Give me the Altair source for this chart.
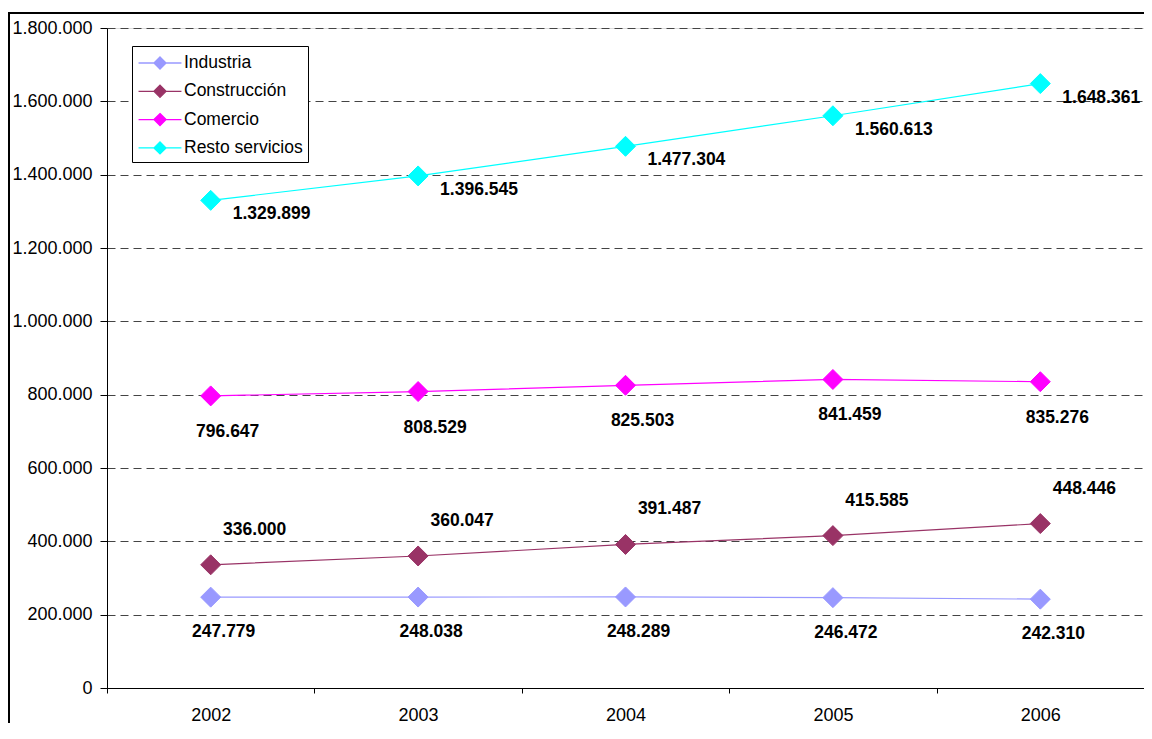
import altair as alt
import pandas as pd

years = ["2002", "2003", "2004", "2005", "2006"]
series = ["Industria", "Construcción", "Comercio", "Resto servicios"]
industria = [247779, 248038, 248289, 246472, 242310]
construccion = [336000, 360047, 391487, 415585, 448446]
comercio = [796647, 808529, 825503, 841459, 835276]
resto = [1329899, 1396545, 1477304, 1560613, 1648361]
colors = ["#9999FF", "#993366", "#FF00FF", "#00FFFF"]
y_ticks = [0, 200000, 400000, 600000, 800000, 1000000, 1200000, 1400000, 1600000, 1800000]

rows = []
for name, vals in zip(series, [industria, construccion, comercio, resto]):
    for yr, v in zip(years, vals):
        rows.append({"Año": yr, "Serie": name, "Valor": v})
df = pd.DataFrame(rows)

FONT = "Liberation Sans"
dot_fmt = "replace(replace(format({v}, ','), ',', '.'), ',', '.')"

x_enc = alt.X(
    "Año:N", sort=years,
    scale=alt.Scale(type="band", paddingInner=0, paddingOuter=0),
    axis=alt.Axis(title=None, labelAngle=0, tickBand="extent", tickSize=5,
                  domainColor="black", tickColor="black", labelColor="black",
                  labelFontSize=18, labelPadding=13, grid=False, labelFont=FONT),
)
y_enc = alt.Y(
    "Valor:Q",
    scale=alt.Scale(domain=[0, 1800000], nice=False),
    axis=alt.Axis(title=None, values=y_ticks, labelExpr=dot_fmt.format(v="datum.value"),
                  grid=True, gridDash=[8, 5], gridColor="#444444", gridWidth=1,
                  tickSize=7, tickColor="black", domainColor="black",
                  labelColor="black", labelFontSize=18, labelPadding=8, labelFont=FONT),
)

legend_path = "M-1.95,0L1.95,0M0,-0.55L0.55,0L0,0.55L-0.55,0Z"
leg = alt.Legend(
    title=None, orient="none", legendX=25, legendY=18,
    symbolType=legend_path, symbolSize=484, symbolStrokeWidth=1.3,
    symbolOffset=11, labelOffset=12, rowPadding=7.3,
    strokeColor="black", fillColor="white", padding=5,
    labelFontSize=17.5, labelColor="black", labelFont=FONT,
)
stroke_scale = alt.Scale(domain=series, range=colors)
fill_scale = alt.Scale(domain=series, range=colors)

lines = alt.Chart(df).mark_line(strokeWidth=1.2).encode(
    x=x_enc, y=y_enc,
    stroke=alt.Stroke("Serie:N", scale=stroke_scale, legend=leg),
    detail="Serie:N",
)
points = alt.Chart(df).mark_point(shape="diamond", filled=True, size=400, opacity=1, strokeWidth=1).encode(
    x=x_enc, y=y_enc,
    fill=alt.Fill("Serie:N", scale=fill_scale, legend=leg),
    stroke=alt.Stroke("Serie:N", scale=stroke_scale, legend=leg),
)

label_specs = {
    "Industria": dict(align="center", dx=13, dy=35),
    "Construcción": dict(align="center", dx=44, dy=-35),
    "Comercio": dict(align="center", dx=17, dy=36),
    "Resto servicios": dict(align="left", dx=22, dy=14),
}
texts = []
for name in series:
    spec = label_specs[name]
    t = alt.Chart(df).transform_filter(
        alt.datum.Serie == name
    ).transform_calculate(
        etiqueta=dot_fmt.format(v="datum.Valor")
    ).mark_text(
        fontWeight="bold", fontSize=17.5, font=FONT, color="black", baseline="middle", **spec
    ).encode(x=x_enc, y=y_enc, text="etiqueta:N")
    texts.append(t)

# outer chart-area border: thin filled bars for its left and top edges
frame_df = pd.DataFrame({"k": [0]})
frame_left = alt.Chart(frame_df).mark_rect(color="black", strokeWidth=0).encode(
    x=alt.value(-99), x2=alt.value(-97), y=alt.value(-16), y2=alt.value(695))
frame_top = alt.Chart(frame_df).mark_rect(color="black", strokeWidth=0).encode(
    x=alt.value(-99), x2=alt.value(1037), y=alt.value(-16), y2=alt.value(-14))

chart = alt.layer(lines, points, *texts, frame_left, frame_top).properties(
    width=1037, height=660,
    autosize=alt.AutoSizeParams(type="none"),
    padding={"left": 99, "top": 20, "right": 0, "bottom": 35},
).configure_view(strokeWidth=0, strokeOpacity=0).configure(font=FONT)

chart.save("out.html", embed_options={"renderer": "svg", "actions": False})
